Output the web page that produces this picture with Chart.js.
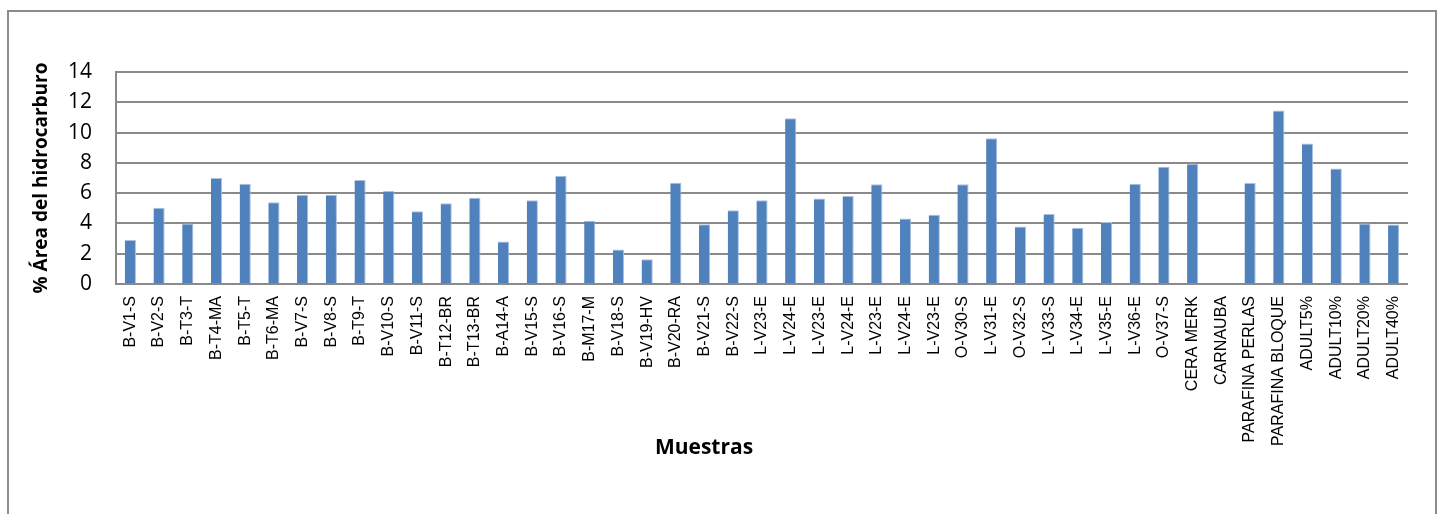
<!DOCTYPE html>
<html>
<head>
<meta charset="utf-8">
<style>
  html, body { margin: 0; padding: 0; background: #fff; }
  #wrap { width: 1442px; height: 514px; }
</style>
<script src="https://cdn.jsdelivr.net/npm/chart.js@4"></script>
</head>
<body>
<div id="wrap"><canvas id="myChart" width="1442" height="514"></canvas></div>
<script>
var muestras = [
  "B-V1-S", "B-V2-S", "B-T3-T", "B-T4-MA", "B-T5-T", "B-T6-MA", "B-V7-S", "B-V8-S",
  "B-T9-T", "B-V10-S", "B-V11-S", "B-T12-BR", "B-T13-BR", "B-A14-A", "B-V15-S",
  "B-V16-S", "B-M17-M", "B-V18-S", "B-V19-HV", "B-V20-RA", "B-V21-S", "B-V22-S",
  "L-V23-E", "L-V24-E", "L-V23-E", "L-V24-E", "L-V23-E", "L-V24-E", "L-V23-E",
  "O-V30-S", "L-V31-E", "O-V32-S", "L-V33-S", "L-V34-E", "L-V35-E", "L-V36-E",
  "O-V37-S", "CERA MERK", "CARNAUBA", "PARAFINA PERLAS", "PARAFINA BLOQUE",
  "ADULT5%", "ADULT10%", "ADULT20%", "ADULT40%"
];

var areaHidrocarburo = [
  2.9, 5.04, 4.0, 7.0, 6.62, 5.4, 5.9, 5.9,
  6.86, 6.14, 4.8, 5.33, 5.7, 2.81, 5.53,
  7.15, 4.17, 2.28, 1.64, 6.69, 3.95, 4.87,
  5.53, 10.94, 5.64, 5.81, 6.58, 4.32, 4.58,
  6.58, 9.63, 3.79, 4.63, 3.71, 4.1, 6.62,
  7.74, 7.94, 0, 6.67, 11.45,
  9.28, 7.63, 3.99, 3.93
];

var yTicks = [0, 2, 4, 6, 8, 10, 12, 14];

// marco gris alrededor del grafico
var marco = {
  id: "marco",
  beforeDraw: function (chart) {
    var c = chart.ctx;
    c.save();
    c.strokeStyle = "#8c8c8c";
    c.lineWidth = 2;
    c.strokeRect(8, 11, 1428, 600);
    c.restore();
  },
};

var data = {
  labels: muestras,
  datasets: [
    {
      label: "% Área del hidrocarburo",
      data: areaHidrocarburo,
      backgroundColor: "#4f81bd",
      borderColor: "#a9c0e0",
      borderWidth: { top: 1, left: 0, right: 1, bottom: 0 },
      categoryPercentage: 1,
      barPercentage: 0.39,
    },
  ],
};

var options = {
  responsive: false,
  animation: false,
  layout: {
    padding: { top: 72, right: 34, left: 0, bottom: 0 },
  },
  plugins: {
    legend: { display: false },
    tooltip: { enabled: false },
    title: {
      display: true,
      position: "bottom",
      text: "Muestras",
      color: "#000",
      font: { family: "Open Sans", size: 21, weight: "bold", lineHeight: 1.2 },
      padding: { top: -24, bottom: 53 },
    },
  },
  scales: {
    x: {
      grid: { display: false, drawTicks: false },
      border: { display: false },
      ticks: {
        autoSkip: false,
        minRotation: 90,
        maxRotation: 90,
        padding: 12,
        color: "#000",
        font: { family: "Liberation Sans", size: 16 },
      },
      afterFit: function (scale) {
        scale.height = 514 - (25.2 - 24 + 53) - 284;
      },
    },
    y: {
      min: 0,
      max: 14,
      afterBuildTicks: function (scale) {
        scale.ticks = yTicks.map(function (v) { return { value: v }; });
      },
      grid: { color: "#8a8a8a", lineWidth: 2, drawTicks: false },
      border: { display: true, color: "#8a8a8a", width: 2 },
      ticks: {
        padding: 24,
        color: "#000",
        font: { family: "Open Sans", size: 21 },
      },
      title: {
        display: true,
        text: "% Área del hidrocarburo",
        color: "#000",
        font: { family: "Open Sans", size: 19, weight: "bold", lineHeight: 1.2 },
        padding: { top: 30, bottom: 0 },
      },
      afterFit: function (scale) {
        scale.width = 116;
      },
    },
  },
};

const ctx = document.getElementById("myChart").getContext("2d");
const myChart = new Chart(ctx, {
  type: "bar",
  data: data,
  options: options,
  plugins: [marco],
});
</script>
</body>
</html>
